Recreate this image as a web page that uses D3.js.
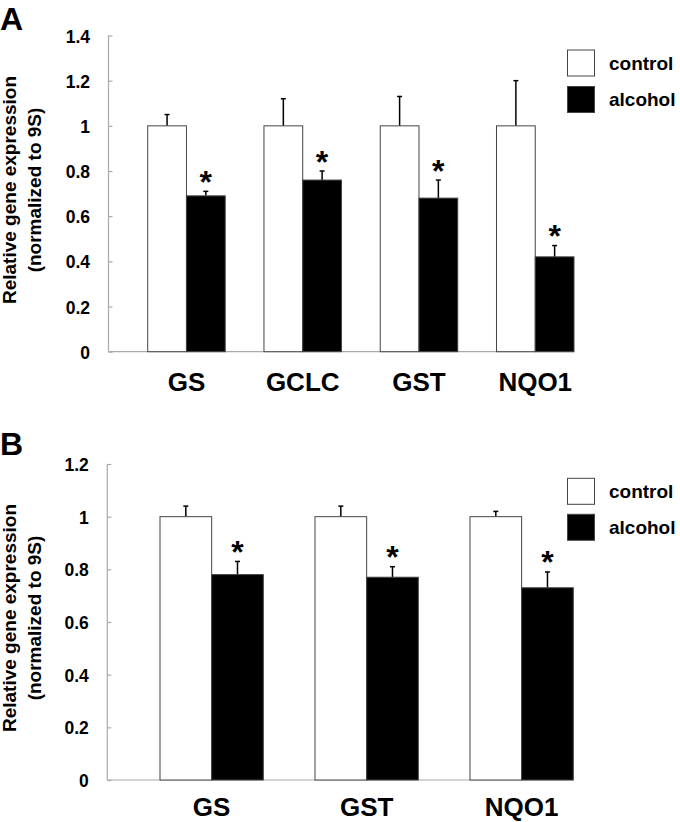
<!DOCTYPE html>
<html>
<head>
<meta charset="utf-8">
<script src="https://cdn.jsdelivr.net/npm/d3@7"></script>
<style>
  html, body { margin: 0; padding: 0; background: #fff; }
  svg { display: block; }
  text { font-family: "Liberation Sans", Arial, sans-serif; font-weight: bold; fill: #000; }
</style>
</head>
<body>
<svg id="chart" width="680" height="822"></svg>
<script>
// ---------- data ----------
const seriesNames = ["control", "alcohol"];

const catsA = ["GS", "GCLC", "GST", "NQO1"];
const controlA = [1.0, 1.0, 1.0, 1.0];
const controlErrA = [0.05, 0.12, 0.13, 0.20];
const alcoholA = [0.69, 0.76, 0.68, 0.42];
const alcoholErrA = [0.02, 0.04, 0.08, 0.05];
const ticksA = [0, 0.2, 0.4, 0.6, 0.8, 1.0, 1.2, 1.4];

const catsB = ["GS", "GST", "NQO1"];
const controlB = [1.0, 1.0, 1.0];
const controlErrB = [0.04, 0.04, 0.02];
const alcoholB = [0.78, 0.77, 0.73];
const alcoholErrB = [0.05, 0.04, 0.06];
const ticksB = [0, 0.2, 0.4, 0.6, 0.8, 1.0, 1.2];

const yTitle = ["Relative gene expression", "(normalized to 9S)"];

// ---------- drawing ----------
const svg = d3.select("#chart");
const fmt = d3.format("~g");

function drawPanel(cfg) {
  const g = svg.append("g");
  const y = d3.scaleLinear().domain([0, cfg.ymax]).range([cfg.yBottom, cfg.yTop]);
  const x = d3.scaleBand().domain(cfg.cats).range([cfg.bandX0, cfg.axisX1]).paddingInner(1/3).paddingOuter(0);
  const xs = d3.scaleBand().domain(seriesNames).range([0, x.bandwidth()]);

  // panel letter
  g.append("text").attr("x", 0).attr("y", cfg.letterY)
    .style("font-size", "32px").text(cfg.letter);

  // y axis (ticks inside)
  const yAxis = d3.axisRight(y).tickValues(cfg.ticks).tickSize(4).tickFormat("");
  const ya = g.append("g").attr("transform", `translate(${cfg.axisX0},0)`).call(yAxis);
  ya.select(".domain").attr("d", `M0,${cfg.yTop}V${cfg.yBottom}`).attr("stroke", "#aaa").attr("stroke-width", 1.2);
  ya.selectAll(".tick line").attr("stroke", "#aaa").attr("stroke-width", 1.2);

  // tick labels
  g.selectAll(".tl").data(cfg.ticks).join("text")
    .attr("x", cfg.axisX0 - 18.5).attr("y", d => y(d) + 7)
    .attr("text-anchor", "end").style("font-size", "17.5px")
    .text(d => fmt(d));

  // x axis line
  g.append("line").attr("x1", cfg.axisX0).attr("x2", cfg.axisX1)
    .attr("y1", y(0)).attr("y2", y(0)).attr("stroke", "#aaa").attr("stroke-width", 1.2);

  // y title
  const tt = g.append("g").attr("transform", `translate(0,${cfg.titleCY}) rotate(-90)`);
  tt.append("text").attr("x", 0).attr("y", 15.5).attr("text-anchor", "middle")
    .style("font-size", "19px").text(yTitle[0]);
  tt.append("text").attr("x", 0).attr("y", 40.5).attr("text-anchor", "middle")
    .style("font-size", "19px").text(yTitle[1]);

  const rows = cfg.cats.map((c, i) => ({
    cat: c,
    vals: [
      { s: "control", v: cfg.control[i], e: cfg.controlErr[i] },
      { s: "alcohol", v: cfg.alcohol[i], e: cfg.alcoholErr[i] }
    ]
  }));

  const grp = g.selectAll(".grp").data(rows).join("g")
    .attr("transform", d => `translate(${x(d.cat)},0)`);

  // error bars (drawn first so bars cover bottom)
  grp.selectAll(".eb").data(d => d.vals).join("line")
    .attr("x1", d => xs(d.s) + xs.bandwidth() / 2).attr("x2", d => xs(d.s) + xs.bandwidth() / 2)
    .attr("y1", d => y(d.v)).attr("y2", d => y(d.v + d.e))
    .attr("stroke", "#000").attr("stroke-width", 1.5);
  grp.selectAll(".cap").data(d => d.vals).join("line")
    .attr("x1", d => xs(d.s) + xs.bandwidth() / 2 - 2.5).attr("x2", d => xs(d.s) + xs.bandwidth() / 2 + 2.5)
    .attr("y1", d => y(d.v + d.e)).attr("y2", d => y(d.v + d.e))
    .attr("stroke", "#000").attr("stroke-width", 1.5);

  grp.selectAll("rect").data(d => d.vals).join("rect")
    .attr("x", d => xs(d.s)).attr("width", xs.bandwidth())
    .attr("y", d => y(d.v)).attr("height", d => y(0) - y(d.v))
    .attr("fill", d => d.s === "control" ? "#fff" : "#000")
    .attr("stroke", "#444").attr("stroke-width", 1);

  // significance stars
  grp.selectAll(".star").data(d => d.vals.filter(v => v.s === "alcohol")).join("text")
    .attr("x", d => xs(d.s) + xs.bandwidth() / 2)
    .attr("y", d => y(d.v + d.e) + 1.5)
    .attr("text-anchor", "middle").style("font-size", "32px").text("*");

  // category labels
  g.selectAll(".cl").data(cfg.cats).join("text")
    .attr("x", d => x(d) + x.bandwidth() / 2).attr("y", cfg.catY)
    .attr("text-anchor", "middle").style("font-size", "26px").text(d => d);

  // legend
  const lg = g.selectAll(".lg").data(seriesNames).join("g")
    .attr("transform", (d, i) => `translate(567.5,${cfg.legY + i * cfg.legStep})`);
  lg.append("rect").attr("width", 27).attr("height", 26)
    .attr("fill", d => d === "control" ? "#fff" : "#000").attr("stroke", "#444").attr("stroke-width", 1);
  lg.append("text").attr("x", 41.5).attr("y", 19.5).style("font-size", "19px").text(d => d);
}

drawPanel({
  letter: "A", letterY: 30,
  cats: catsA, control: controlA, controlErr: controlErrA, alcohol: alcoholA, alcoholErr: alcoholErrA,
  ticks: ticksA, ymax: 1.4, yTop: 35.5, yBottom: 351.7,
  axisX0: 108.5, axisX1: 574, bandX0: 147.7,
  titleCY: 190, catY: 390.7, legY: 50, legStep: 36.5
});

drawPanel({
  letter: "B", letterY: 455,
  cats: catsB, control: controlB, controlErr: controlErrB, alcohol: alcoholB, alcoholErr: alcoholErrB,
  ticks: ticksB, ymax: 1.2, yTop: 464, yBottom: 780,
  axisX0: 107.3, axisX1: 573.3, bandX0: 160,
  titleCY: 618, catY: 815.5, legY: 478.3, legStep: 36
});
</script>
</body>
</html>
